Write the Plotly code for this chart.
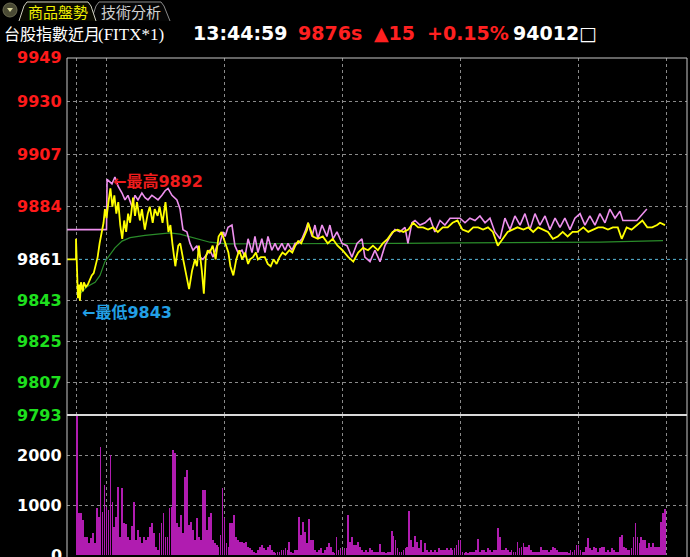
import plotly.graph_objects as go

W, H = 690, 557

# ---------------- data ----------------
price_ticks = [9949, 9930, 9907, 9884, 9861, 9843, 9825, 9807, 9793]
ref_price = 9861
vol_ticks = [2000, 1000, 0]
grid_minutes = [0, 15, 75, 135, 195, 255, 300]   # 08:45, 09:00, 10:00 ... 13:00, 13:45

# futures (yellow): minutes after 08:45 and price
fut_t = [-5.1, -0.5, -0.5, 0, 0.5, 1, 1.5, 2, 3, 3.5, 4.5, 5.5, 6.5, 7.5, 8.5, 9.5, 10.5,
         11.5, 12.5, 13.5, 14.2, 15, 16, 17, 18, 19, 20, 21, 22, 23, 24, 25, 26, 27, 28.5,
         29.5, 30.5, 32, 33, 34.5, 36, 37, 38.5, 39.5, 41, 42, 43.5, 45, 46.5, 47.5, 48.5,
         50, 51.5, 52.5, 54, 55.5, 57, 58.5, 60, 61, 62, 63.5, 64.5, 65.5, 66.5, 67.5, 69,
         70.5, 72, 73.5, 75, 77, 78, 79.5, 81, 82.5, 84, 85.5, 87, 88, 89.5, 91, 92, 93.5,
         95.5, 97, 98.5, 100, 101.5, 103, 104.5, 106, 108, 109.5, 111, 112.5, 114, 115.5,
         117, 117.5, 120, 122.5, 125, 127.5, 130, 132.5, 135, 138, 140.5, 143, 145.5, 148,
         150.5, 153, 155.5, 158, 160.5, 163, 166, 168.5, 171, 173.5, 176, 178.5, 181, 183.5,
         186, 188.5, 191, 193.5, 196, 199, 201.5, 204, 206.5, 209, 211.5, 214, 216.5, 219,
         221.5, 224, 227, 229.5, 232, 234.5, 237, 239.5, 242, 244.5, 247, 249.5, 252, 254.5,
         257.5, 260, 262.5, 265, 267.5, 270, 272.5, 275, 277, 279.5, 282, 284.5, 287.5, 290,
         292.5, 295, 296.5, 299]
fut_p = [9861, 9861, 9870, 9849, 9844, 9850, 9843, 9851, 9847, 9851, 9849, 9850, 9852, 9854,
         9855, 9858, 9862, 9868, 9873, 9877, 9883, 9879, 9886, 9892, 9884, 9889, 9881, 9886,
         9876, 9870, 9878, 9873, 9881, 9877, 9888, 9880, 9886, 9878, 9883, 9874, 9881, 9884,
         9877, 9883, 9880, 9884, 9877, 9886, 9873, 9876, 9868, 9858, 9867, 9868, 9861, 9855,
         9848, 9856, 9861, 9858, 9867, 9856, 9846, 9862, 9865, 9864, 9867, 9861, 9871, 9873,
         9869, 9864, 9858, 9854, 9861, 9865, 9861, 9864, 9859, 9861, 9862, 9864, 9861, 9862,
         9862, 9859, 9858, 9861, 9859, 9862, 9864, 9863, 9865, 9864, 9867, 9869, 9868, 9871,
         9874, 9877, 9871, 9870, 9871, 9868, 9870, 9867, 9865, 9862, 9860, 9864, 9866, 9865,
         9867, 9865, 9868, 9870, 9873, 9874, 9873, 9874, 9877, 9875, 9875, 9874, 9875, 9873,
         9875, 9875, 9877, 9878, 9874, 9873, 9875, 9875, 9874, 9875, 9873, 9867, 9870, 9873,
         9874, 9875, 9874, 9875, 9873, 9875, 9874, 9873, 9870, 9871, 9873, 9871, 9873, 9873,
         9875, 9873, 9874, 9875, 9875, 9874, 9875, 9875, 9870, 9875, 9874, 9876, 9878, 9875,
         9875, 9876, 9877, 9876]

# spot index (pink)
spot_t = [-5.1, 15, 15.3, 17.8, 19.3, 20.9, 22.9, 24.4, 25.9, 28, 29.5, 31, 33, 34.6, 36.1,
          38.1, 39.7, 41.2, 43.2, 44.8, 46.3, 48.3, 50.8, 52.4, 53.9, 55.9, 57.5, 59, 61,
          62.5, 64, 66, 67.6, 69.2, 71.2, 72.7, 74.2, 75.3, 76.8, 78.8, 80.3, 81.9, 83.9,
          85.4, 87, 89, 90.5, 92, 94, 95.6, 97.1, 99.1, 100.7, 102.2, 104.2, 105.8, 107.3,
          109.3, 110.9, 112.4, 114.4, 115.9, 117.5, 119.5, 121, 122.5, 124.6, 127.1, 128.6,
          130.2, 132.2, 134.8, 137.3, 139.8, 142.4, 144.9, 146.4, 149, 151.5, 154.1, 156.6,
          159.2, 161.7, 164.2, 166.8, 168.3, 170.3, 171.9, 174.4, 177, 179.5, 182, 184.6,
          187.1, 189.7, 192.2, 194.8, 197.3, 199.8, 202.4, 204.9, 207.5, 210, 212.5, 215.1,
          217.6, 220.2, 222.7, 225.3, 227.8, 230.3, 232.9, 235.4, 238, 240.5, 243.1, 245.6,
          248.1, 250.7, 253.2, 255.8, 258.3, 260.8, 263.4, 265.9, 268.5, 271, 273.6, 276.1,
          277.6, 284.7, 289.8]
spot_p = [9874, 9874, 9896, 9894, 9897, 9893, 9890, 9887, 9889, 9884, 9889, 9887, 9890, 9888,
          9887, 9889, 9888, 9887, 9889, 9891, 9892, 9889, 9887, 9883, 9874, 9873, 9868, 9865,
          9867, 9862, 9861, 9863, 9865, 9862, 9867, 9868, 9873, 9871, 9875, 9876, 9867, 9864,
          9865, 9862, 9870, 9864, 9871, 9864, 9870, 9864, 9871, 9865, 9868, 9865, 9868, 9865,
          9868, 9865, 9868, 9868, 9870, 9873, 9877, 9871, 9876, 9870, 9876, 9871, 9876, 9870,
          9873, 9868, 9867, 9862, 9868, 9870, 9862, 9860, 9865, 9860, 9867, 9871, 9874, 9873,
          9875, 9868, 9877, 9878, 9876, 9877, 9879, 9873, 9878, 9876, 9879, 9879, 9879, 9877,
          9879, 9878, 9880, 9877, 9879, 9873, 9870, 9879, 9874, 9880, 9876, 9881, 9874, 9881,
          9876, 9880, 9874, 9879, 9875, 9879, 9874, 9879, 9881, 9876, 9880, 9876, 9881, 9877,
          9883, 9879, 9882, 9878, 9878, 9883]

# average price (green)
avg_t = [1.5, 5.1, 9.2, 11.7, 14.2, 16.8, 19.3, 22.9, 27, 34.6, 42.2, 47.3, 52.4, 59, 67.6,
         76.3, 88, 113.4, 164.2, 194.8, 266, 298]
avg_p = [9846, 9849, 9851, 9854, 9860, 9863, 9866, 9869, 9870.5, 9871.5, 9872.3, 9872.6,
         9872, 9870.5, 9868.5, 9867.8, 9867.8, 9867.7, 9868, 9868.2, 9868.5, 9869.2]

# volume per minute, 08:45 .. 13:44
volume = [3000, 833, 833, 700, 367, 367, 233, 333, 433, 233,
          933, 767, 2167, 867, 1400, 967, 900, 2000, 1067, 567,
          767, 1353, 367, 1333, 633, 620, 367, 300, 580, 1067,
          300, 500, 367, 247, 367, 300, 367, 567, 633, 433,
          167, 100, 433, 633, 833, 367, 367, 933, 967, 2100,
          2033, 633, 567, 800, 433, 1567, 1700, 600, 667, 500,
          300, 733, 367, 300, 1300, 1300, 500, 767, 833, 300,
          233, 200, 167, 400, 1333, 733, 233, 167, 633, 633,
          800, 367, 300, 267, 267, 233, 267, 167, 133, 100,
          67, 33, 100, 167, 200, 133, 100, 167, 200, 100,
          67, 33, 67, 67, 100, 100, 133, 100, 267, 67,
          33, 100, 100, 767, 400, 667, 467, 233, 720, 300,
          300, 100, 67, 100, 133, 33, 100, 167, 233, 167,
          67, 33, 367, 100, 133, 100, 133, 133, 800, 267,
          367, 200, 200, 267, 167, 100, 67, 100, 67, 133,
          100, 67, 67, 67, 220, 67, 67, 33, 67, 67,
          480, 380, 300, 133, 67, 67, 100, 133, 167, 883,
          300, 167, 380, 267, 133, 300, 67, 247, 100, 67,
          100, 67, 100, 67, 133, 100, 100, 100, 133, 100,
          133, 100, 133, 200, 300, 300, 67, 33, 67, 33,
          67, 67, 67, 100, 313, 67, 100, 100, 67, 133,
          100, 67, 100, 100, 533, 353, 100, 100, 133, 100,
          67, 100, 67, 67, 267, 133, 167, 247, 167, 167,
          200, 100, 67, 67, 67, 67, 153, 100, 100, 100,
          67, 100, 167, 133, 100, 67, 67, 67, 67, 67,
          33, 100, 67, 100, 200, 200, 100, 67, 67, 167,
          333, 133, 100, 167, 133, 67, 133, 167, 167, 67,
          100, 67, 133, 100, 67, 67, 367, 400, 167, 133,
          100, 100, 133, 367, 633, 367, 233, 367, 300, 300,
          133, 233, 167, 233, 167, 167, 167, 667, 833, 913]
vol_minutes = list(range(len(volume)))

high_text = "←最高9892"
low_text = "←最低9843"
title_cjk = "台股指數近月"
title_code = "(FITX*1)"
quote_parts = [("13:44:59", "#ffffff"), ("9876s", "#ff2020"), ("▲15", "#ff2020"),
               ("+0.15%", "#ff2020"), ("94012□", "#ffffff")]
tab_labels = ["商品盤勢", "技術分析"]

# ---------------- layout helpers ----------------
def px(x):
    return x / W

def py(y):
    return 1 - y / H

L, R, T, SEP, B = 67, 687, 58, 415, 555
X_RANGE = [-5.08, 310.2]

fig = go.Figure()
fig.add_trace(go.Bar(x=vol_minutes, y=volume, marker=dict(color="#b01cb0", line=dict(width=0)),
                     width=0.9, xaxis="x2", yaxis="y2", hoverinfo="skip"))
fig.add_trace(go.Scatter(x=avg_t, y=avg_p, mode="lines", line=dict(color="#2a8c2a", width=1.2),
                         xaxis="x", yaxis="y", hoverinfo="skip"))
fig.add_trace(go.Scatter(x=spot_t, y=spot_p, mode="lines", line=dict(color="#ee90ee", width=1.6),
                         xaxis="x", yaxis="y", hoverinfo="skip"))
fig.add_trace(go.Scatter(x=fut_t, y=fut_p, mode="lines", line=dict(color="#ffff00", width=1.8),
                         xaxis="x", yaxis="y", hoverinfo="skip"))

grid_col = "#8a8a8a"
axis_common = dict(showline=False, zeroline=False, ticks="", showticklabels=False,
                   showgrid=True, gridcolor=grid_col, griddash="dot", gridwidth=1, fixedrange=True)

fig.update_layout(
    width=W, height=H, margin=dict(l=0, r=0, t=0, b=0),
    paper_bgcolor="#000000", plot_bgcolor="#000000", showlegend=False, bargap=0,
    hovermode=False,
    xaxis=dict(domain=[px(L), px(R)], range=X_RANGE, tickvals=grid_minutes, anchor="y", **axis_common),
    yaxis=dict(domain=[py(SEP), py(T)], range=[price_ticks[-1], price_ticks[0]],
               tickvals=[v for v in price_ticks if v != ref_price], anchor="x", **axis_common),
    xaxis2=dict(domain=[px(L), px(R)], range=X_RANGE, tickvals=grid_minutes, anchor="y2", **axis_common),
    yaxis2=dict(domain=[py(B), py(SEP)], range=[0, 2800], tickvals=vol_ticks, anchor="x2", **axis_common),
)

shapes = []
# reference price dotted line
shapes.append(dict(type="line", xref="paper", yref="y", x0=px(L), x1=px(R), y0=ref_price, y1=ref_price,
                   line=dict(color="#58b8d8", width=1, dash="dot"), layer="below"))
# borders
border = "#c8c8c8"
shapes.append(dict(type="line", xref="paper", yref="paper", x0=px(L), x1=px(L), y0=0, y1=py(T),
                   line=dict(color=border, width=1)))
shapes.append(dict(type="line", xref="paper", yref="paper", x0=px(R), x1=px(R), y0=0, y1=py(T),
                   line=dict(color=border, width=1)))
shapes.append(dict(type="line", xref="paper", yref="paper", x0=px(L), x1=px(R), y0=py(T), y1=py(T),
                   line=dict(color=border, width=1)))
shapes.append(dict(type="line", xref="paper", yref="paper", x0=px(L), x1=px(R), y0=py(SEP), y1=py(SEP),
                   line=dict(color="#d8d8d8", width=2)))

# tabs
def path(points):
    s = "M {:.5f},{:.5f}".format(px(points[0][0]), py(points[0][1]))
    for p in points[1:]:
        s += " L {:.5f},{:.5f}".format(px(p[0]), py(p[1]))
    return s

shapes.append(dict(type="path", xref="paper", yref="paper",
                   path=path([(91, 21), (96, 6), (99, 2), (161, 2), (164, 6), (170, 21)]),
                   line=dict(color="#8a8a8a", width=1), fillcolor="#050505"))
shapes.append(dict(type="path", xref="paper", yref="paper",
                   path=path([(19, 21), (24, 6), (27, 2), (88, 2), (91, 6), (96, 21)]),
                   line=dict(color="#d0d0c0", width=1), fillcolor="#0a0a00"))
shapes.append(dict(type="circle", xref="paper", yref="paper", x0=px(3), x1=px(17), y0=py(17), y1=py(3),
                   line=dict(color="#6a6a50", width=1), fillcolor="#4a4a34"))
shapes.append(dict(type="path", xref="paper", yref="paper",
                   path=path([(7, 8), (13, 8), (10, 12)]) + " Z",
                   line=dict(width=0), fillcolor="#d8d8a0"))

annotations = []
lab_font = "DejaVu Sans"
for v in price_ticks:
    col = "#ff1a1a" if v > ref_price else ("#ffffff" if v == ref_price else "#1ee01e")
    annotations.append(dict(text="<b>%d</b>" % v, xref="paper", yref="y", x=px(64), y=v,
                            xanchor="right", yanchor="middle", showarrow=False,
                            font=dict(family=lab_font, size=16, color=col)))
for v in vol_ticks:
    annotations.append(dict(text="<b>%d</b>" % v, xref="paper", yref="y2", x=px(64), y=v,
                            xanchor="right", yanchor="middle", showarrow=False,
                            font=dict(family=lab_font, size=16, color="#ffffff")))

annotations.append(dict(text="<b>" + high_text + "</b>", xref="paper", yref="paper", x=px(111), y=py(181),
                        xanchor="left", yanchor="middle", showarrow=False,
                        font=dict(family="DejaVu Sans, Noto Sans CJK TC", size=16, color="#ee1c1c")))
annotations.append(dict(text="<b>" + low_text + "</b>", xref="paper", yref="paper", x=px(80), y=py(312),
                        xanchor="left", yanchor="middle", showarrow=False,
                        font=dict(family="DejaVu Sans, Noto Sans CJK TC", size=16, color="#22a0e6")))

# header
annotations.append(dict(text=tab_labels[0], xref="paper", yref="paper", x=px(58), y=py(11),
                        xanchor="center", yanchor="middle", showarrow=False,
                        font=dict(family="Noto Sans CJK TC", size=15, color="#f0f000")))
annotations.append(dict(text=tab_labels[1], xref="paper", yref="paper", x=px(131), y=py(11),
                        xanchor="center", yanchor="middle", showarrow=False,
                        font=dict(family="Noto Sans CJK TC", size=15, color="#d0d0d0")))
annotations.append(dict(text=title_cjk, xref="paper", yref="paper", x=px(2), y=py(33),
                        xanchor="left", yanchor="middle", showarrow=False,
                        font=dict(family="Noto Sans CJK TC", size=16, color="#ffffff")))
annotations.append(dict(text=title_code, xref="paper", yref="paper", x=px(96), y=py(34),
                        xanchor="left", yanchor="middle", showarrow=False,
                        font=dict(family="Liberation Serif", size=17, color="#ffffff")))
quote_x = [191, 296, 372, 425, 511]
for (txt, col), xx in zip(quote_parts, quote_x):
    annotations.append(dict(text="<b>" + txt + "</b>", xref="paper", yref="paper", x=px(xx), y=py(33),
                            xanchor="left", yanchor="middle", showarrow=False,
                            font=dict(family="DejaVu Sans", size=19, color=col)))

fig.update_layout(shapes=shapes, annotations=annotations)
fig.write_html("out.html", config={"displayModeBar": False, "staticPlot": True},
               post_script="document.body.style.margin='0';document.body.style.overflow='hidden';")
